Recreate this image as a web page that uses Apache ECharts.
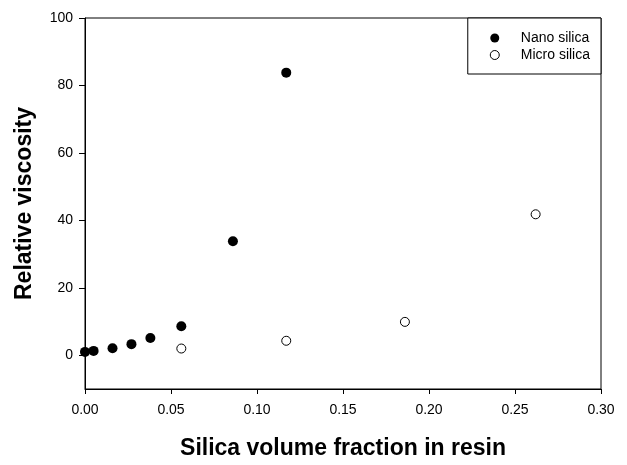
<!DOCTYPE html>
<html>
<head>
<meta charset="utf-8">
<script src="https://cdn.jsdelivr.net/npm/echarts@6/dist/echarts.min.js"></script>
<style>
  html, body { margin: 0; padding: 0; background: #fff; }
  #main { width: 627px; height: 465px; }
</style>
</head>
<body>
<div id="main"></div>
<script>
// values
var nanoX = [0, 0.005, 0.016, 0.027, 0.038, 0.056, 0.086, 0.117];
var nanoY = [1.0, 1.3, 2.1, 3.3, 5.1, 8.6, 33.8, 83.8];
var microX = [0.056, 0.117, 0.186, 0.262];
var microY = [2.0, 4.3, 9.9, 41.8];
var yTicks = [0, 20, 40, 60, 80, 100];

function pairs(xs, ys) {
  return xs.map(function (x, i) { return [x, ys[i]]; });
}

var chart = echarts.init(document.getElementById('main'));
var font = 'Liberation Sans, Arial, sans-serif';

var option = {
  animation: false,
  textStyle: { fontFamily: font, color: '#000' },
  grid: {
    left: 85, right: 26, top: 18, bottom: 76,
    show: true,
    borderColor: '#000',
    borderWidth: 1
  },
  legend: {
    right: 26,
    top: 18,
    orient: 'vertical',
    icon: 'circle',
    itemWidth: 42,
    itemHeight: 9,
    itemGap: 3,
    padding: [13, 11, 12, 22],
    borderColor: '#000',
    borderWidth: 1,
    backgroundColor: '#fff',
    textStyle: { fontFamily: font, fontSize: 14, color: '#000' },
    data: [
      'Nano silica',
      { name: 'Micro silica', itemStyle: { borderWidth: 1 } }
    ]
  },
  xAxis: {
    type: 'value',
    min: 0,
    max: 0.3,
    interval: 0.05,
    name: 'Silica volume fraction in resin',
    nameLocation: 'middle',
    nameGap: 48,
    nameTextStyle: { fontFamily: font, fontSize: 23, fontWeight: 'bold', color: '#000' },
    axisLine: { onZero: false, lineStyle: { color: '#000', width: 1 } },
    axisTick: { inside: false, length: 5, lineStyle: { color: '#000' } },
    axisLabel: {
      margin: 14,
      fontSize: 14,
      color: '#000',
      formatter: function (v) { return v.toFixed(2); }
    },
    splitLine: { show: false }
  },
  yAxis: {
    type: 'value',
    min: -10,
    max: 100,
    name: 'Relative viscosity',
    nameLocation: 'middle',
    nameGap: 49,
    nameTextStyle: { fontFamily: font, fontSize: 23, fontWeight: 'bold', color: '#000' },
    axisLine: { onZero: false, lineStyle: { color: '#000', width: 1 } },
    axisTick: { length: 6, customValues: yTicks, lineStyle: { color: '#000' } },
    axisLabel: { margin: 12, fontSize: 14, color: '#000', customValues: yTicks },
    splitLine: { show: false }
  },
  series: [
    {
      name: 'Nano silica',
      type: 'scatter',
      symbol: 'circle',
      symbolSize: 10,
      itemStyle: { color: '#000', opacity: 1 },
      data: pairs(nanoX, nanoY)
    },
    {
      name: 'Micro silica',
      type: 'scatter',
      symbol: 'circle',
      symbolSize: 9,
      itemStyle: { color: '#fff', borderColor: '#000', borderWidth: 1, opacity: 1 },
      data: pairs(microX, microY)
    }
  ]
};

chart.setOption(option);
</script>
</body>
</html>
